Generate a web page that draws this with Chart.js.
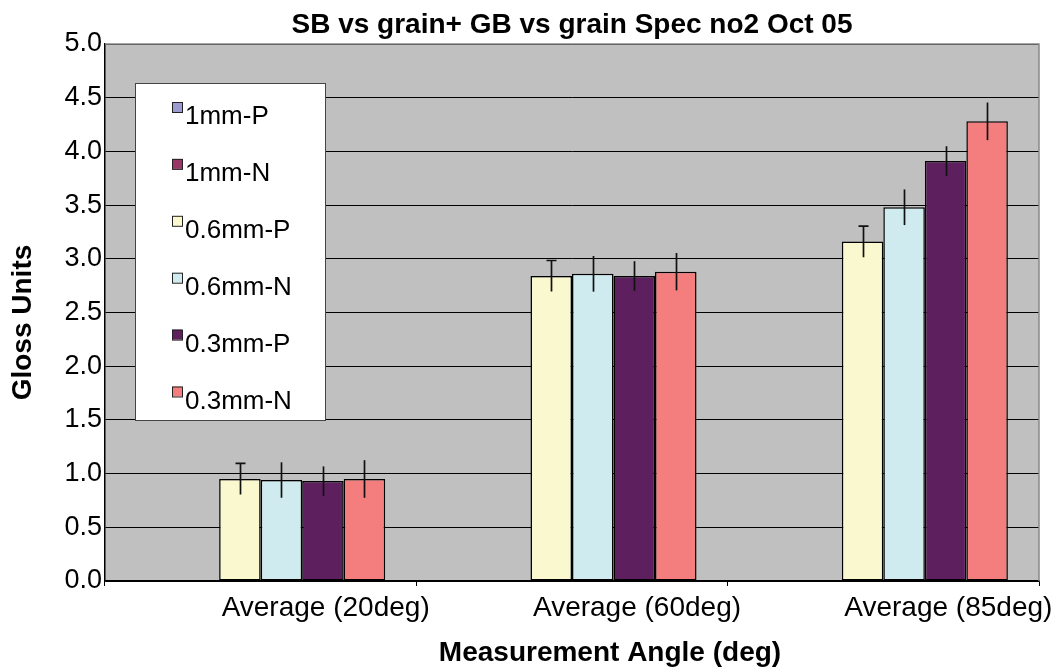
<!DOCTYPE html>
<html>
<head>
<meta charset="utf-8">
<title>SB vs grain+ GB vs grain Spec no2 Oct 05</title>
<script src="https://cdn.jsdelivr.net/npm/chart.js@4.4.1/dist/chart.umd.min.js"></script>
<style>
  html, body { margin: 0; padding: 0; background: #fff; }
  #wrap { width: 1061px; height: 669px; }
</style>
</head>
<body>
<div id="wrap"><canvas id="glossChart" width="1061" height="669"></canvas></div>
<script>
// categories and series
const angles = ['Average (20deg)', 'Average (60deg)', 'Average (85deg)'];
const seriesNames = ['1mm-P', '1mm-N', '0.6mm-P', '0.6mm-N', '0.3mm-P', '0.3mm-N'];

// mean gloss values (1mm samples have no readings)
const gloss1mmP = [null, null, null];
const gloss1mmN = [null, null, null];
const gloss06P = [0.95, 2.84, 3.16];
const gloss06N = [0.94, 2.86, 3.48];
const gloss03P = [0.93, 2.84, 3.91];
const gloss03N = [0.95, 2.88, 4.28];

// +/- error for each mean
const err1mmP = [null, null, null];
const err1mmN = [null, null, null];
const err06P = [0.145, 0.144, 0.145];
const err06N = [0.165, 0.166, 0.166];
const err03P = [0.137, 0.138, 0.138];
const err03N = [0.175, 0.174, 0.175];

// y axis
const yMin = 0;
const yMax = 5;
const yStep = 0.5;

const seriesColors = ['#9b9bd0', '#983566', '#faf8ce', '#d0ebef', '#5e1f5e', '#f47e7e'];
const seriesValues = [gloss1mmP, gloss1mmN, gloss06P, gloss06N, gloss03P, gloss03N];
const seriesErrors = [err1mmP, err1mmN, err06P, err06N, err03P, err03N];

const FONT = 'Arial, "Liberation Sans", sans-serif';

const datasets = seriesNames.map((name, i) => ({
    label: name,
    data: seriesValues[i],
    errors: seriesErrors[i],
    backgroundColor: seriesColors[i],
    borderColor: '#000',
    borderWidth: 1.5,
    borderSkipped: false,
    categoryPercentage: 0.8,
    barPercentage: 1.0
}));

// grey plot area
const plotBackground = {
    id: 'plotBackground',
    beforeDraw(chart) {
        const { ctx, chartArea: a } = chart;
        ctx.save();
        ctx.fillStyle = '#c0c0c0';
        ctx.fillRect(a.left, a.top, a.right - a.left, a.bottom - a.top);
        ctx.restore();
    }
};

// vertical error bars, only the 0.6mm-P series has a top cap
const errorBars = {
    id: 'errorBars',
    afterDatasetsDraw(chart) {
        const { ctx } = chart;
        const y = chart.scales.y;
        ctx.save();
        ctx.strokeStyle = '#111';
        ctx.lineWidth = 1.7;
        chart.data.datasets.forEach((ds, di) => {
            const meta = chart.getDatasetMeta(di);
            ds.data.forEach((v, i) => {
                const e = ds.errors[i];
                if (v == null || e == null) return;
                const x = Math.round(meta.data[i].x) + 0.5;
                const top = y.getPixelForValue(v + e);
                const bot = y.getPixelForValue(v - e);
                ctx.beginPath();
                ctx.moveTo(x, top);
                ctx.lineTo(x, bot);
                if (ds.label === '0.6mm-P') {
                    ctx.moveTo(x - 5, top);
                    ctx.lineTo(x + 5, top);
                }
                ctx.stroke();
            });
        });
        ctx.restore();
    }
};

// plot frame, legend box and axis titles
const overlay = {
    id: 'overlay',
    afterDraw(chart) {
        const { ctx, chartArea: a } = chart;
        ctx.save();

        ctx.strokeStyle = '#888';
        ctx.lineWidth = 1.5;
        ctx.beginPath();
        ctx.moveTo(a.left, a.top);
        ctx.lineTo(a.right, a.top);
        ctx.lineTo(a.right, a.bottom);
        ctx.stroke();

        // legend
        const lx = a.left + 30, ly = a.top + 39, lw = 190, lh = 337;
        ctx.fillStyle = '#fff';
        ctx.fillRect(lx, ly, lw, lh);
        ctx.strokeStyle = '#444';
        ctx.lineWidth = 1;
        ctx.strokeRect(lx + 0.5, ly + 0.5, lw, lh);
        ctx.font = '26px ' + FONT;
        ctx.textBaseline = 'alphabetic';
        ctx.textAlign = 'left';
        chart.data.datasets.forEach((ds, i) => {
            const base = ly + 41 + i * 56.9;
            ctx.fillStyle = ds.backgroundColor;
            ctx.fillRect(lx + 37, base - 22, 10, 10);
            ctx.strokeStyle = '#222';
            ctx.strokeRect(lx + 37.5, base - 21.5, 10, 10);
            ctx.fillStyle = '#000';
            ctx.fillText(ds.label, lx + 50, base);
        });

        // axis titles
        ctx.fillStyle = '#000';
        ctx.font = 'bold 28px ' + FONT;
        ctx.textAlign = 'center';
        ctx.textBaseline = 'middle';
        ctx.fillText('Measurement Angle (deg)', (a.left + a.right) / 2 + 38, 653);
        ctx.translate(23, (a.top + a.bottom) / 2 + 10);
        ctx.rotate(-Math.PI / 2);
        ctx.fillText('Gloss Units', 0, 0);

        ctx.restore();
    }
};

new Chart(document.getElementById('glossChart'), {
    type: 'bar',
    data: { labels: angles, datasets: datasets },
    options: {
        responsive: false,
        animation: false,
        devicePixelRatio: 1,
        layout: { padding: { left: 0, right: 22, top: 0, bottom: 0 } },
        plugins: {
            legend: { display: false },
            tooltip: { enabled: false },
            title: {
                display: true,
                fullSize: false,
                text: 'SB vs grain+ GB vs grain Spec no2 Oct 05',
                color: '#000',
                font: { family: FONT, size: 28, weight: 'bold', lineHeight: 1.2 },
                padding: { top: 8, bottom: 2.4 }
            }
        },
        scales: {
            x: {
                offset: true,
                grid: { offset: true, drawOnChartArea: false, drawTicks: true, tickLength: 5, color: '#000' },
                border: { color: '#000', width: 1.5 },
                ticks: {
                    color: '#000',
                    font: { family: FONT, size: 28 },
                    padding: 5,
                    labelOffset: 65,
                    maxRotation: 0,
                    autoSkip: false
                },
                afterFit(scale) { scale.height = 88; }
            },
            y: {
                min: yMin,
                max: yMax,
                grid: { color: '#000', lineWidth: 1, drawTicks: false },
                border: { color: '#000', width: 1.5 },
                ticks: {
                    stepSize: yStep,
                    color: '#000',
                    padding: 3,
                    font: { family: FONT, size: 27 },
                    callback: v => Number(v).toFixed(1)
                },
                afterFit(scale) { scale.width = 105; }
            }
        }
    },
    plugins: [plotBackground, errorBars, overlay]
});
</script>
</body>
</html>
